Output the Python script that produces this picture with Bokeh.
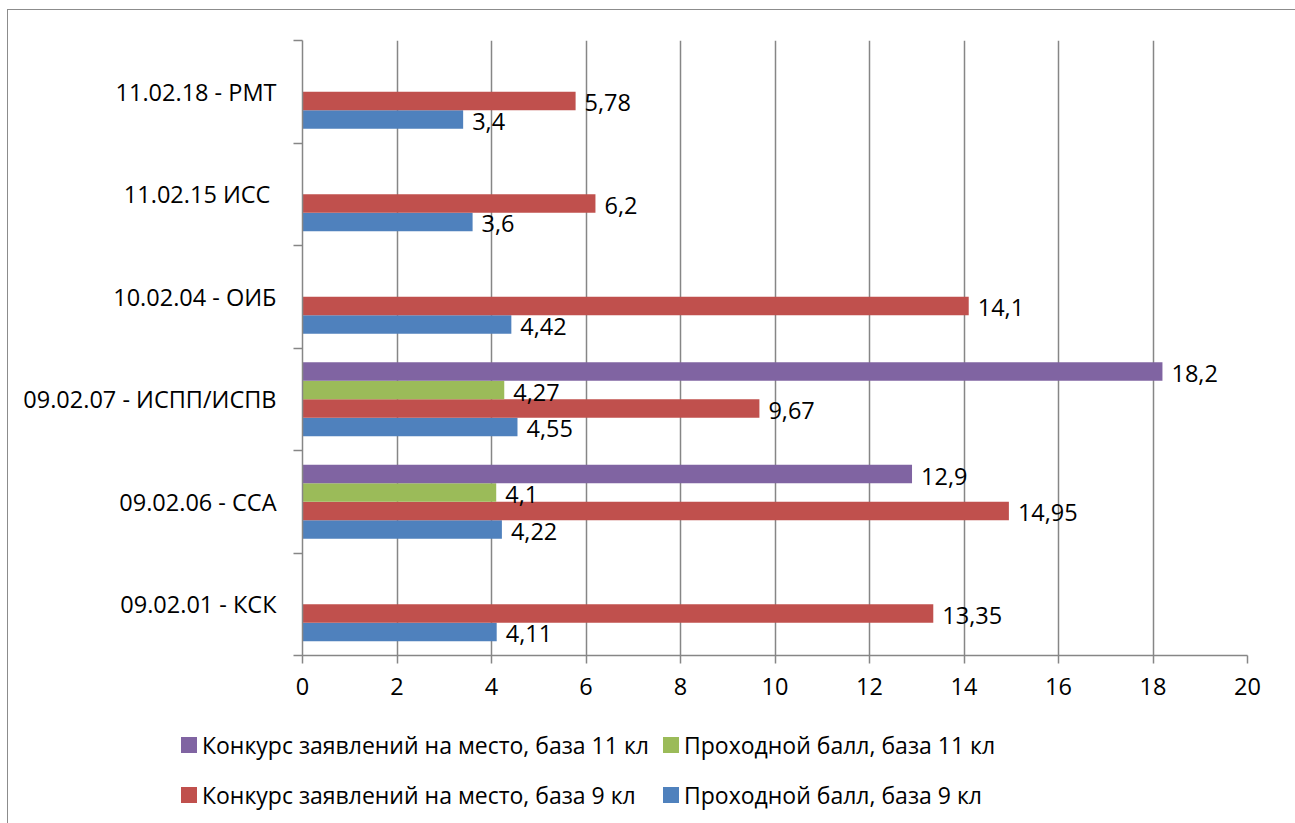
from bokeh.plotting import figure
from bokeh.layouts import column
from bokeh.models import FixedTicker, ColumnDataSource, Range1d, Div
from bokeh.embed import file_html
from bokeh.resources import INLINE
from bokeh.core.properties import value

# ---- data ----
categories = ["09.02.01 - КСК", "09.02.06 - ССА", "09.02.07 - ИСПП/ИСПВ",
              "10.02.04 - ОИБ", "11.02.15  ИСС", "11.02.18 - РМТ"]
ball_9 = [4.11, 4.22, 4.55, 4.42, 3.6, 3.4]
konkurs_9 = [13.35, 14.95, 9.67, 14.1, 6.2, 5.78]
ball_11 = [None, 4.1, 4.27, None, None, None]
konkurs_11 = [None, 12.9, 18.2, None, None, None]
x_ticks = [0, 2, 4, 6, 8, 10, 12, 14, 16, 18, 20]

names = ["Проходной балл, база 9 кл", "Конкурс заявлений на место, база 9 кл",
         "Проходной балл, база 11 кл", "Конкурс заявлений на место, база 11 кл"]
values_list = [ball_9, konkurs_9, ball_11, konkurs_11]
colors = ["#4F81BD", "#C0504D", "#9BBB59", "#8064A2"]
offsets = [-0.27, -0.09, 0.09, 0.27]

FONT = "Open Sans"
FS = "23.5px"
LFS = "23px"
GRAY = "#868686"

p = figure(width=1282, height=705, output_backend="svg", toolbar_location=None,
           x_range=Range1d(0, 20), y_range=Range1d(0, len(categories)),
           min_border_left=294, min_border_right=43, min_border_top=30,
           min_border_bottom=60)
p.outline_line_color = None

for name, vals, col, off in zip(names, values_list, colors, offsets):
    ys, xs, labels = [], [], []
    for i, v in enumerate(vals):
        if v is None:
            continue
        ys.append(i + 0.5 + off)
        xs.append(v)
        labels.append(str(v).replace(".", ","))
    src = ColumnDataSource(dict(y=ys, x=xs, label=labels))
    p.hbar(y="y", right="x", left=0, height=0.18, source=src,
           fill_color=col, line_color=None)
    p.text(x="x", y="y", text="label", source=src, x_offset=9, y_offset=2,
           text_font=value(FONT), text_font_size=FS, text_color="black",
           text_baseline="middle", text_align="left")

# axes
centers = [i + 0.5 for i in range(len(categories))]
bounds = [i for i in range(len(categories) + 1)]
p.yaxis.ticker = FixedTicker(ticks=centers, minor_ticks=bounds)
p.yaxis.major_label_overrides = {c: cat for c, cat in zip(centers, categories)}
p.yaxis.major_tick_in = 0
p.yaxis.major_tick_out = 0
p.yaxis.minor_tick_in = 0
p.yaxis.minor_tick_out = 9
p.yaxis.major_label_standoff = 17
p.yaxis.major_label_text_font = FONT
p.yaxis.major_label_text_font_size = FS

p.xaxis.ticker = FixedTicker(ticks=x_ticks, minor_ticks=[])
p.xaxis.major_tick_in = 0
p.xaxis.major_tick_out = 8
p.xaxis.major_label_standoff = 14
p.xaxis.major_label_text_font = FONT
p.xaxis.major_label_text_font_size = FS

for ax in (p.xaxis[0], p.yaxis[0]):
    ax.axis_line_color = GRAY
    ax.axis_line_width = 1.5
    ax.major_tick_line_color = GRAY
    ax.minor_tick_line_color = GRAY
    ax.major_tick_line_width = 1.5
    ax.minor_tick_line_width = 1.5
    ax.major_label_text_color = "black"

p.xgrid.ticker = FixedTicker(ticks=x_ticks)
p.xgrid.grid_line_color = GRAY
p.xgrid.grid_line_width = 1.5
p.ygrid.visible = False

# ---- legend (2 x 2 grid, HTML) ----
legend_slots = [(3, 168, 9), (2, 650, 9), (1, 168, 59), (0, 650, 59)]
items_html = ""
for idx, left, top in legend_slots:
    items_html += (
        f'<div style="position:absolute;left:{left}px;top:{top}px;height:32px;'
        f'display:flex;align-items:center;white-space:nowrap;'
        f"font-family:'{FONT}';font-size:{LFS};color:black;line-height:32px\">"
        f'<span style="display:inline-block;width:16px;height:16px;'
        f'background:{colors[idx]};margin-right:5px"></span>{names[idx]}</div>'
    )
legend_div = Div(text=f'<div style="position:relative;width:1282px;height:108px">{items_html}</div>',
                 width=1282, height=108)

layout = column(p, legend_div, spacing=0, margin=(10, 0, 0, 8),
                styles={"outline": "1.5px solid #8c8c8c"})

open("out.html", "w").write(file_html(layout, INLINE))
